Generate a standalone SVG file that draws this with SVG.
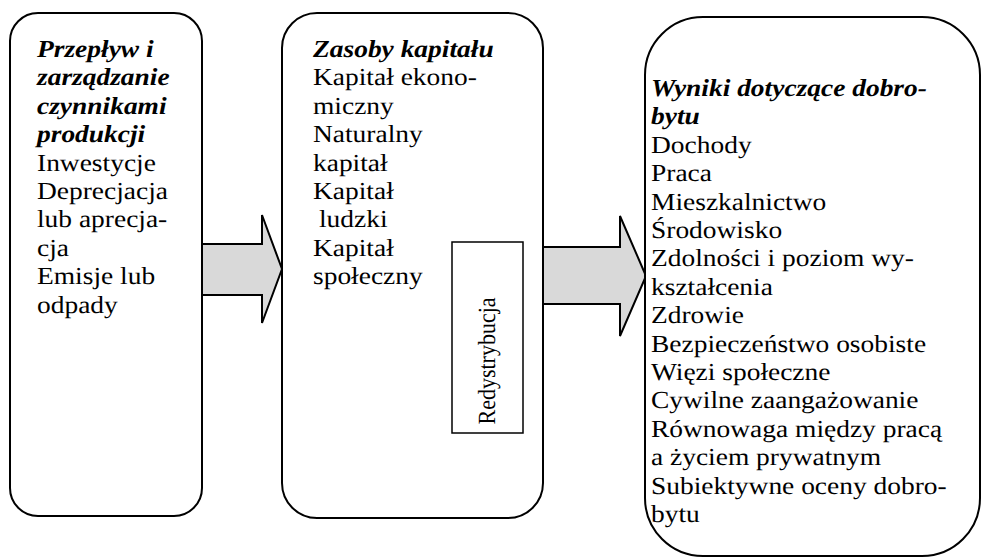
<svg xmlns="http://www.w3.org/2000/svg" width="983" height="559" viewBox="0 0 983 559" text-rendering="geometricPrecision">
<style>
.box{fill:#fff;stroke:#000;stroke-width:2}
.arrow{fill:#d9d9d9;stroke:#000;stroke-width:2;stroke-linejoin:miter}
text{font-family:'Times New Roman','Liberation Serif',serif;font-size:24.5px;fill:#000;text-rendering:geometricPrecision}
.hd{font-weight:bold;font-style:italic}
.rot{font-size:22px}
</style>
<rect width="983" height="559" fill="#fff"/>
<g id="connectors">
<polygon class="arrow" points="202,244 262,244 262,215 282,269 262,323 262,295 202,295"/>
<polygon class="arrow" points="543,247 620,247 620,216 646,276 620,336 620,304 543,304"/>
</g>
<g id="node-przeplyw">
<rect class="box" x="10" y="13" width="192" height="503" rx="28" ry="28"/>
<text class="hd" transform="translate(37,57) scale(1.12,1)">Przepływ i</text>
<text class="hd" transform="translate(37,85.4) scale(1.12,1)">zarządzanie</text>
<text class="hd" transform="translate(37,113.8) scale(1.12,1)">czynnikami</text>
<text class="hd" transform="translate(37,142.2) scale(1.12,1)">produkcji</text>
<text transform="translate(37,170.6) scale(1.12,1)">Inwestycje</text>
<text transform="translate(37,199) scale(1.12,1)">Deprecjacja</text>
<text transform="translate(37,227.4) scale(1.12,1)">lub aprecja-</text>
<text transform="translate(37,255.8) scale(1.12,1)">cja</text>
<text transform="translate(37,284.2) scale(1.12,1)">Emisje lub</text>
<text transform="translate(37,312.6) scale(1.12,1)">odpady</text>
</g>
<g id="node-zasoby">
<rect class="box" x="282" y="13" width="261" height="505" rx="35" ry="35"/>
<text class="hd" transform="translate(313,57) scale(1.12,1)">Zasoby kapitału</text>
<text transform="translate(313,85.4) scale(1.12,1)">Kapitał ekono-</text>
<text transform="translate(313,113.8) scale(1.12,1)">miczny</text>
<text transform="translate(313,142.2) scale(1.12,1)">Naturalny</text>
<text transform="translate(313,170.6) scale(1.12,1)">kapitał</text>
<text transform="translate(313,199) scale(1.12,1)">Kapitał</text>
<text transform="translate(319,227.4) scale(1.12,1)">ludzki</text>
<text transform="translate(313,255.8) scale(1.12,1)">Kapitał</text>
<text transform="translate(313,284.2) scale(1.12,1)">społeczny</text>
</g>
<g id="node-redystrybucja">
<rect x="452" y="242" width="71" height="191" fill="#fff" stroke="#000" stroke-width="1.5"/>
<text class="rot" text-anchor="middle" transform="translate(495,361) scale(1.12,1) rotate(-90)">Redystrybucja</text>
</g>
<g id="node-wyniki">
<rect class="box" x="645" y="17" width="335" height="539" rx="58" ry="58"/>
<text class="hd" transform="translate(651,96) scale(1.12,1)">Wyniki dotyczące dobro-</text>
<text class="hd" transform="translate(651,124.4) scale(1.12,1)">bytu</text>
<text transform="translate(651,152.8) scale(1.12,1)">Dochody</text>
<text transform="translate(651,181.2) scale(1.12,1)">Praca</text>
<text transform="translate(651,209.6) scale(1.12,1)">Mieszkalnictwo</text>
<text transform="translate(651,238) scale(1.12,1)">Środowisko</text>
<text transform="translate(651,266.4) scale(1.12,1)">Zdolności i poziom wy-</text>
<text transform="translate(651,294.8) scale(1.12,1)">kształcenia</text>
<text transform="translate(651,323.2) scale(1.12,1)">Zdrowie</text>
<text transform="translate(651,351.6) scale(1.12,1)">Bezpieczeństwo osobiste</text>
<text transform="translate(651,380) scale(1.12,1)">Więzi społeczne</text>
<text transform="translate(651,408.4) scale(1.12,1)">Cywilne zaangażowanie</text>
<text transform="translate(651,436.8) scale(1.12,1)">Równowaga między pracą</text>
<text transform="translate(651,465.2) scale(1.12,1)">a życiem prywatnym</text>
<text transform="translate(651,493.6) scale(1.12,1)">Subiektywne oceny dobro-</text>
<text transform="translate(651,522) scale(1.12,1)">bytu</text>
</g>
</svg>
